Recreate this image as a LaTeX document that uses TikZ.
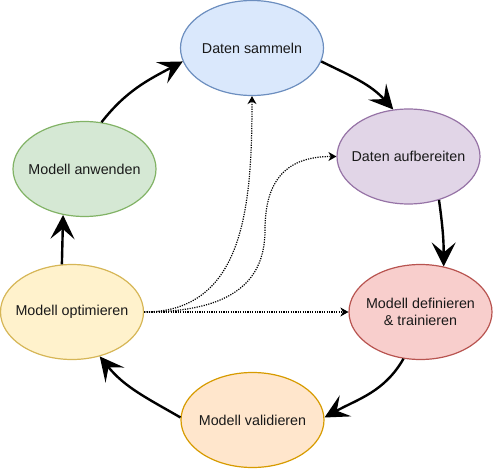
\documentclass[tikz,border=0pt]{standalone}
\usepackage{fontspec}
\setmainfont{Liberation Sans}
\usetikzlibrary{arrows.meta, shapes.geometric}

\definecolor{sammelnFill}{HTML}{DAE8FC}
\definecolor{sammelnLine}{HTML}{6C8EBF}
\definecolor{aufbereitenFill}{HTML}{E1D5E7}
\definecolor{aufbereitenLine}{HTML}{9673A6}
\definecolor{definierenFill}{HTML}{F8CECC}
\definecolor{definierenLine}{HTML}{B85450}
\definecolor{validierenFill}{HTML}{FFE6CC}
\definecolor{validierenLine}{HTML}{D79B00}
\definecolor{optimierenFill}{HTML}{FFF2CC}
\definecolor{optimierenLine}{HTML}{D6B656}
\definecolor{anwendenFill}{HTML}{D5E8D4}
\definecolor{anwendenLine}{HTML}{82B366}

\begin{document}
\begin{tikzpicture}[x=1pt, y=-1pt,
  phase/.style = {ellipse, draw, line width=1.2pt, minimum width=143pt, minimum height=95pt,
                  inner xsep=-20pt, inner ysep=0pt, align=center, text=black!90},
  cycle/.style = {line width=2.4pt, -{Stealth[length=24pt, width=24pt, inset=10pt]}},
  feedback/.style = {line width=1.2pt, dash pattern=on 1.2pt off 1.2pt,
                     -{Stealth[length=8pt, width=9pt, inset=2.5pt]}},
  font=\fontsize{14.3pt}{17.5pt}\selectfont]
  \useasboundingbox (0, 0) rectangle (494, 470);

  % Phases.
  \node at (252, 48) [phase, fill=sammelnFill, draw=sammelnLine, name=Sammeln] {Daten sammeln};
  \node at (408.5, 156.5) [phase, fill=aufbereitenFill, draw=aufbereitenLine, name=Aufbereiten] {Daten aufbereiten};
  \node at (420.5, 312) [phase, fill=definierenFill, draw=definierenLine, name=Definieren] {Modell definieren\\\& trainieren};
  \node at (252.5, 420) [phase, fill=validierenFill, draw=validierenLine, name=Validieren] {Modell validieren};
  \node at (72, 312) [phase, fill=optimierenFill, draw=optimierenLine, name=Optimieren] {Modell optimieren};
  \node at (84.5, 169) [phase, fill=anwendenFill, draw=anwendenLine, name=Anwenden] {Modell anwenden};

  % Waypoint of the feedback to Daten aufbereiten.
  \coordinate (bend) at (265, 230);

  % Cycle.
  \draw [cycle] (Anwenden.70)
             to [out=52, in=208]
             (Sammeln.191);
  \draw [cycle] (Sammeln.349)
             to [out=-26, in=132]
             (Aufbereiten.108);
  \draw [cycle] (Aufbereiten.305)
             to [out=-82, in=90]
             (Definieren.63);
  \draw [cycle] (Definieren.250)
             to [out=240, in=29]
             (Validieren.2);
  \draw [cycle] (Validieren.178)
             to [out=150, in=-51]
             (Optimieren.302);
  \draw [cycle] (Optimieren.102)
             to
             (Anwenden.245);

  % Feedback.
  \draw [feedback] (Optimieren.east)
             .. controls +(100, 0) and +(0, 110) ..
             (Sammeln.south);
  \draw [feedback] (Optimieren.east)
             .. controls +(90, 0) and +(0, 50) .. (bend)
             .. controls +(0, -50) and +(-50, 0) ..
             (Aufbereiten.west);
  \draw [feedback] (Optimieren.east)
             to
             (Definieren.west);
\end{tikzpicture}
\end{document}
